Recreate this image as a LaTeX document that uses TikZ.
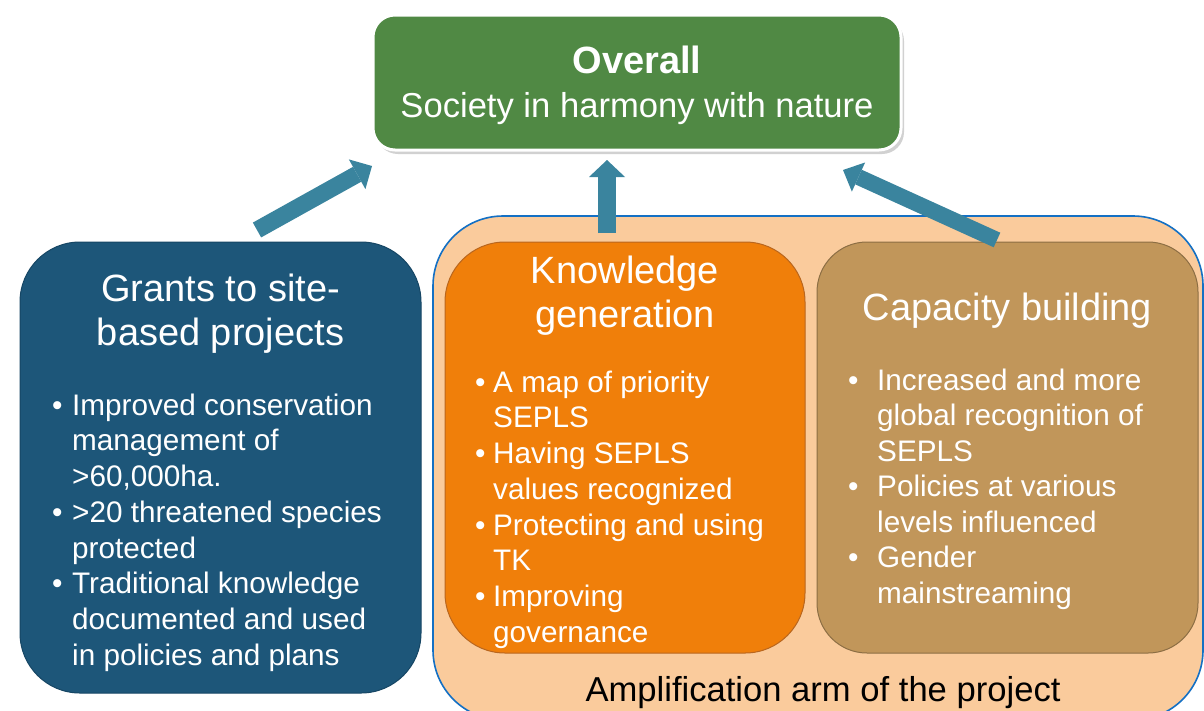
\documentclass[tikz,border=0pt]{standalone}
\usepackage{fontspec}
\setmainfont{Liberation Sans}
\usetikzlibrary{arrows.meta}
\definecolor{overallgreen}{RGB}{80,137,68}
\definecolor{grantsblue}{RGB}{29,86,121}
\definecolor{grantsedge}{RGB}{22,70,100}
\definecolor{amplfill}{RGB}{250,203,156}
\definecolor{ampledge}{RGB}{20,112,196}
\definecolor{knowfill}{RGB}{240,127,10}
\definecolor{knowedge}{RGB}{185,102,30}
\definecolor{capfill}{RGB}{193,150,90}
\definecolor{capedge}{RGB}{140,110,68}
\definecolor{arrowteal}{RGB}{58,132,158}
\newcommand{\bitem}[2]{\hbox{\llap{\textbullet\hspace{#1}}#2}}
\newcommand{\tline}[1]{\hbox{#1}}
\newcommand{\bodyfont}{\fontsize{29.7}{35.75}\selectfont}
\newcommand{\titlefont}{\fontsize{38}{44}\selectfont}
\begin{document}
\begin{tikzpicture}[x=1pt,y=-1pt,
  box/.style={draw, line width=1pt, inner sep=0pt, rectangle},
  wtext/.style={text=white, inner sep=0pt, anchor=base},
  btext/.style={text=white, inner sep=0pt, anchor=base west},
  conn/.style={draw=arrowteal, line width=#1, -{Triangle[width=2*#1, length=17pt, line width=0pt, fill=arrowteal]}},
]
\useasboundingbox (0,0) rectangle (1204,710);
\clip (0,0) rectangle (1204,710);
\fill[white] (0,0) rectangle (1204,710);

% Overall box with shadow and white rim
\fill[black!18, rounded corners=22pt] (376,19) rectangle (904,154);
\node[box, draw=white, line width=3pt, fill=overallgreen, rounded corners=22pt,
      minimum width=528pt, minimum height=135pt] (overall) at (637,82.5) {};
\node[wtext, font=\titlefont\bfseries] (ovt) at (637,73) {Overall};
\node[wtext, font=\fontsize{34.6}{40}\selectfont] (ovs) at (637,117) {Society in harmony with nature};

% Amplification background
\node[box, draw=ampledge, line width=1.6pt, fill=amplfill, rounded corners=70pt,
      minimum width=770pt, minimum height=504pt] (ampl) at (818,468) {};
\node[inner sep=0pt, anchor=base, font=\fontsize{34.6}{40}\selectfont] (amplt) at (823,701) {Amplification arm of the project};

% Grants box
\node[box, draw=grantsedge, fill=grantsblue, rounded corners=60pt,
      minimum width=401pt, minimum height=451pt] (grants) at (220.5,467.5) {};
\node[wtext, font=\titlefont] (grt1) at (220.5,301) {Grants to site-};
\node[wtext, font=\titlefont] (grt2) at (220.5,345) {based projects};
\node[btext] (grb) at (72,415) {\bodyfont\vtop{%
  \bitem{9.8pt}{Improved conservation}
  \tline{management of}
  \tline{>60,000ha.}
  \bitem{9.8pt}{>20 threatened species}
  \tline{protected}
  \bitem{9.8pt}{Traditional knowledge}
  \tline{documented and used}
  \tline{in policies and plans}}};

% Knowledge box
\node[box, draw=knowedge, fill=knowfill, rounded corners=60pt,
      minimum width=360pt, minimum height=411pt] (know) at (625,447.5) {};
\node[wtext, font=\titlefont] (knt1) at (625,283) {Knowledge};
\node[wtext, font=\titlefont] (knt2) at (625,327.5) {generation};
\node[btext] (knb) at (493,392) {\bodyfont\vtop{%
  \bitem{7.8pt}{A map of priority}
  \tline{SEPLS}
  \bitem{7.8pt}{Having SEPLS}
  \tline{values recognized}
  \bitem{7.8pt}{Protecting and using}
  \tline{TK}
  \bitem{7.8pt}{Improving}
  \tline{governance}}};

% Capacity box
\node[box, draw=capedge, fill=capfill, rounded corners=50pt,
      minimum width=381pt, minimum height=411pt] (cap) at (1007.5,447.5) {};
\node[wtext, font=\titlefont] (cpt) at (1007.5,320) {Capacity building};
\node[btext] (cpb) at (877,390) {\bodyfont\fontsize{29.7}{35.5}\selectfont\vtop{%
  \bitem{18.8pt}{Increased and more}
  \tline{global recognition of}
  \tline{SEPLS}
  \bitem{18.8pt}{Policies at various}
  \tline{levels influenced}
  \bitem{18.8pt}{Gender}
  \tline{mainstreaming}}};

% Arrows
\coordinate (a1s) at (257,230);
\coordinate (a1e) at (372,166);
\coordinate (a2s) at (607,233);
\coordinate (a2e) at (607,160);
\coordinate (a3s) at (997,240);
\coordinate (a3e) at (843,170);
\draw[conn=17pt] (a1s) -- (a1e);
\draw[conn=18pt] (a2s) -- (a2e);
\draw[conn=16pt] (a3s) -- (a3e);
\end{tikzpicture}
\end{document}
